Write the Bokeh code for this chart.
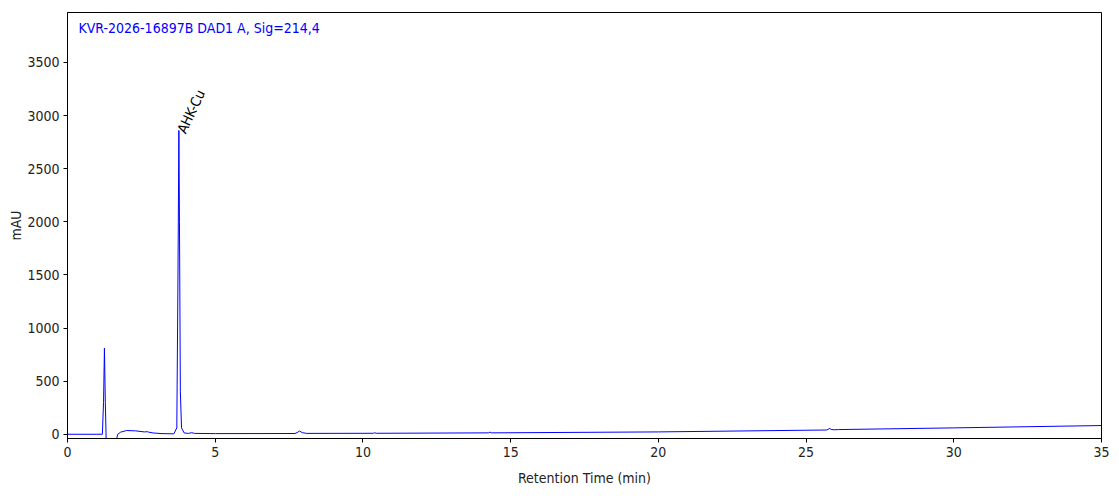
from bokeh.plotting import figure
from bokeh.models import Range1d, Label, FixedTicker
from bokeh.embed import file_html
from bokeh.resources import INLINE

# Chromatogram trace (retention time in min, signal in mAU)
time_min = [0.0, 1.18, 1.22, 1.25, 1.28, 1.31, 1.35, 1.60, 1.65, 1.70, 1.80, 2.0, 2.3,
            2.6, 2.7, 2.75, 2.9, 3.2, 3.6, 3.70, 3.74, 3.77, 3.79, 3.82, 3.86, 3.95,
            4.1, 4.2, 4.3, 5.0, 7.7, 7.8, 7.85, 7.95, 8.1, 10.35, 10.4, 10.45,
            14.25, 14.3, 14.35, 20.0, 25.7, 25.8, 25.85, 25.95, 26.1, 30.0, 35.0]
signal_mau = [0, 0, 300, 810, 300, -60, -200, -200, -60, 0, 20, 35, 32,
              22, 24, 20, 12, 6, 4, 60, 1500, 2860, 2000, 400, 60, 12,
              8, 15, 8, 6, 7, 20, 30, 15, 8, 9, 14, 9,
              13, 20, 13, 22, 40, 55, 45, 42, 44, 60, 82]

peak_time = 3.78
peak_height = 2860
peak_name = "AHK-Cu"
title_text = "KVR-2026-16897B DAD1 A, Sig=214,4"
x_ticks = [0, 5, 10, 15, 20, 25, 30, 35]
y_ticks = [0, 500, 1000, 1500, 2000, 2500, 3000, 3500]

FONT = "DejaVu Sans Condensed"
FS = "14px"

p = figure(frame_width=1034, frame_height=426, output_backend="svg", toolbar_location=None,
           x_range=Range1d(0, 35), y_range=Range1d(-40, 3970),
           min_border_left=67, min_border_right=10, min_border_top=12, min_border_bottom=50)

p.line(time_min, signal_mau, line_color="#0000ff", line_width=1)

p.xgrid.visible = False
p.ygrid.visible = False
p.outline_line_color = "black"
p.outline_line_width = 1
p.background_fill_color = "white"
p.border_fill_color = "white"

for ax, ticks in ((p.xaxis[0], x_ticks), (p.yaxis[0], y_ticks)):
    ax.ticker = FixedTicker(ticks=ticks)
    ax.minor_tick_line_color = None
    ax.major_tick_in = 0
    ax.major_tick_out = 4
    ax.axis_line_color = "black"
    ax.major_tick_line_color = "black"
    ax.major_label_text_font = FONT
    ax.major_label_text_font_size = FS
    ax.major_label_text_color = "#222222"
    ax.axis_label_text_font = FONT
    ax.axis_label_text_font_size = FS
    ax.axis_label_text_font_style = "normal"
    ax.axis_label_text_color = "#222222"
    ax.major_label_standoff = 4

p.xaxis.axis_label = "Retention Time (min)"
p.yaxis.axis_label = "mAU"
p.xaxis.axis_label_standoff = 10
p.yaxis.axis_label_standoff = 0

p.add_layout(Label(x=0.37, y=3820, text=title_text, text_color="#0000ff",
                   text_font=FONT, text_font_size=FS, text_baseline="middle"))
p.add_layout(Label(x=peak_time, y=peak_height, text=peak_name, angle=1.13,
                   text_color="black", text_font=FONT, text_font_size=FS,
                   text_align="left", text_baseline="middle", x_offset=2, y_offset=-2))

open("out.html", "w").write(file_html(p, INLINE))
